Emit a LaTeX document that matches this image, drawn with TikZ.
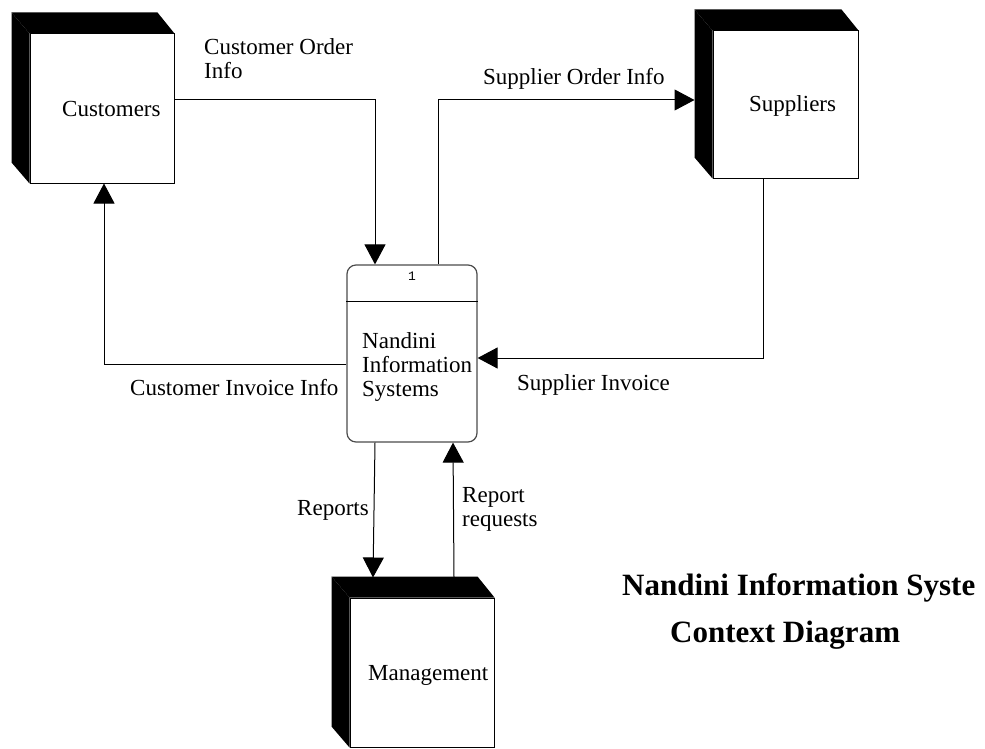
\documentclass[tikz,border=0pt]{standalone}
\usepackage{fontspec}
\setmainfont{Liberation Serif}
\setmonofont{Liberation Mono}
\usetikzlibrary{arrows.meta}
\newcommand\lines[1]{\begin{tabular}[t]{@{}l@{}}#1\end{tabular}}
\begin{document}
\begin{tikzpicture}[x=1pt,y=-1pt,
  entity/.style={draw=black,line width=1pt,fill=white,inner sep=0pt},
  procbox/.style={draw=black!70,line width=1.2pt,rounded corners=9pt,inner sep=0pt,minimum width=130pt,minimum height=177pt},
  lbl/.style={anchor=base west,inner sep=0pt,font=\fontsize{23}{24}\selectfont},
  ttl/.style={anchor=base west,inner sep=0pt,font=\fontsize{31}{36}\selectfont\bfseries},
  flow/.style={draw=black,line width=1pt,-{Triangle[length=20pt,width=21pt]}},
  line/.style={draw=black,line width=1pt}]
\useasboundingbox (0,0) rectangle (985,749);
% Entities
\node[entity,minimum width=144pt,minimum height=149pt] (cust) at (102,108.5) {};
\node[entity,minimum width=145pt,minimum height=147pt] (supp) at (785.5,104.5) {};
\node[entity,minimum width=144pt,minimum height=149pt] (mgmt) at (422,672.5) {};
\foreach \n in {cust,supp,mgmt}{
  \fill[black] (\n.north west) -- ([xshift=-18pt,yshift=21pt]\n.north west) -- ([xshift=-17pt,yshift=21pt]\n.north east) -- (\n.north east) -- cycle;
  \fill[black] (\n.north west) -- ([xshift=-18pt,yshift=21pt]\n.north west) -- ([xshift=-18pt,yshift=21pt]\n.south west) -- (\n.south west) -- cycle;
}
\node[lbl] (custtxt) at (62,117) {Customers};
\node[lbl] (supptxt) at (749,112) {Suppliers};
\node[lbl] (mgmttxt) at (368,680) {Management};
% Process
\node[procbox] (proc) at (412,353.5) {};
\draw[line] ([yshift=-37pt]proc.north west) -- ([yshift=-37pt]proc.north east);
\node[anchor=base,inner sep=0pt,font=\ttfamily\fontsize{13}{14}\selectfont] (pid) at (412,280) {1};
\node[lbl] (proctxt) at (362,348) {\lines{Nandini\\Information\\Systems}};
% Flows
\draw[flow] ([yshift=8.5pt]cust.east) -| ([xshift=-37pt]proc.north);
\draw[flow] ([xshift=26pt]proc.north) |- ([xshift=-18pt,yshift=4.5pt]supp.west);
\draw[flow] ([yshift=-10.5pt]proc.west) -| ([xshift=2pt]cust.south);
\draw[flow] ([xshift=-22.5pt]supp.south) |- ([yshift=-4.5pt]proc.east);
\draw[flow] ([xshift=-37pt]proc.south) -- ([xshift=-49pt,yshift=20pt]mgmt.north);
\draw[flow] ([xshift=32pt,yshift=20pt]mgmt.north) -- ([xshift=41pt]proc.south);
% Labels
\node[lbl] (l1) at (204,55) {\lines{Customer Order\\Info}};
\node[lbl] (l2) at (483,85) {Supplier Order Info};
\node[lbl] (l3) at (130,395) {Customer Invoice Info};
\node[lbl] (l4) at (517,390) {Supplier Invoice};
\node[lbl] (l5) at (297,515) {Reports};
\node[lbl] (l6) at (462,502) {\lines{Report\\requests}};
% Title
\node[ttl] (t1) at (622,595) {Nandini Information Syste};
\node[ttl] (t2) at (670,642) {Context Diagram};
\end{tikzpicture}
\end{document}
